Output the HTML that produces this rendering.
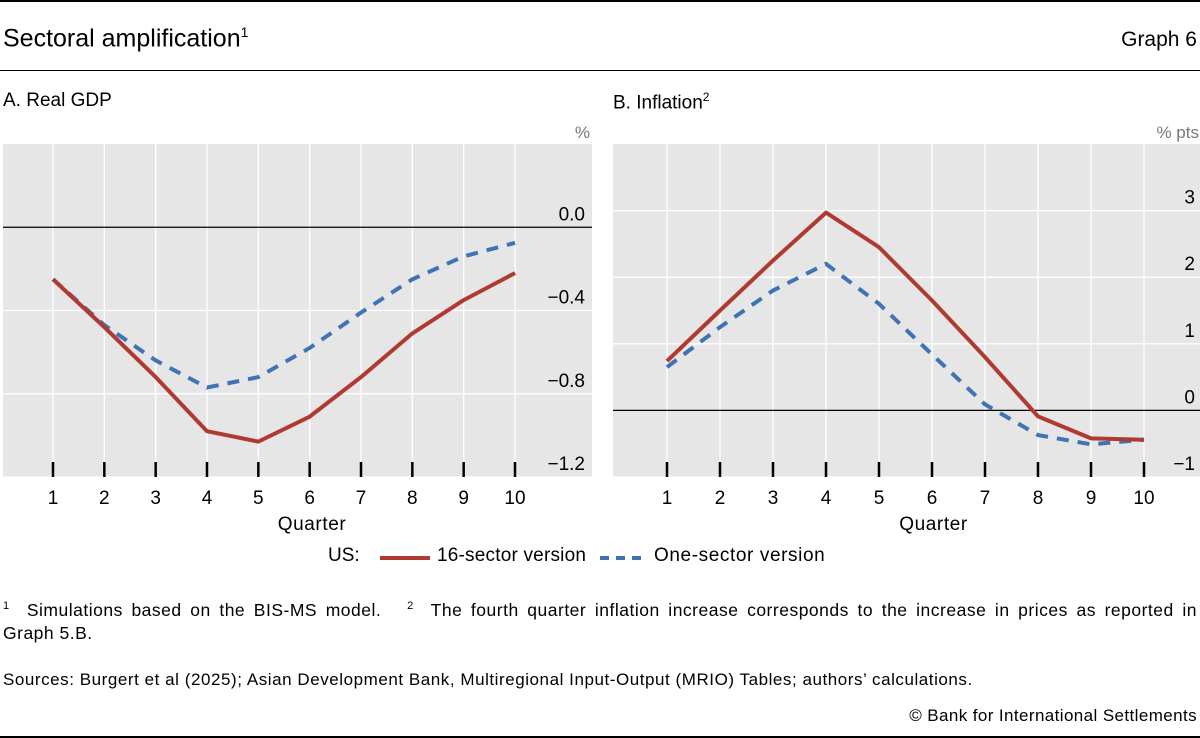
<!DOCTYPE html>
<html><head><meta charset="utf-8"><style>
body{margin:0;width:1200px;height:738px;background:#fff;font-family:"Liberation Sans",sans-serif;color:#000;overflow:hidden;position:relative}
.t{position:absolute;white-space:nowrap}
</style></head><body>
<div style="position:absolute;left:0;top:0;width:1200px;height:2px;background:#000"></div>
<div class="t" style="left:3px;top:24px;font-size:25px">Sectoral amplification<sup style="font-size:14px">1</sup></div>
<div class="t" style="right:3px;top:28px;font-size:21px">Graph 6</div>
<div style="position:absolute;left:0;top:70px;width:1200px;height:1px;background:#000"></div>
<div class="t" style="left:3px;top:90px;font-size:19px">A. Real GDP</div>
<div class="t" style="left:613px;top:90px;font-size:19px">B. Inflation<sup style="font-size:12px">2</sup></div>
<svg id="svg" width="1200" height="600" style="position:absolute;left:0;top:0" font-family="Liberation Sans, sans-serif"></svg>
<div class="t" style="left:328px;top:545px;font-size:19px">US:</div>
<div style="position:absolute;left:380px;top:556px;width:50px;height:4px;background:#b03a32"></div>
<div class="t" style="left:437px;top:545px;font-size:19px;letter-spacing:0.2px">16-sector version</div>
<svg width="52" height="6" style="position:absolute;left:598px;top:555px"><line x1="2" y1="3" x2="50" y2="3" stroke="#3f73b5" stroke-width="4" stroke-dasharray="9,7"/></svg>
<div class="t" style="left:654px;top:545px;font-size:19px;letter-spacing:0.6px">One-sector version</div>
<div class="t" style="left:3px;top:595px;font-size:17.5px;line-height:23px;white-space:normal;width:1194px;text-align:justify;letter-spacing:0.5px"><sup style="font-size:11px">1</sup>&nbsp; Simulations based on the BIS-MS model.&nbsp;&nbsp; <sup style="font-size:11px">2</sup>&nbsp; The fourth quarter inflation increase corresponds to the increase in prices as reported in Graph&nbsp;5.B.</div>
<div class="t" style="left:3px;top:670px;font-size:17px;letter-spacing:0.55px">Sources: Burgert et al (2025); Asian Development Bank, Multiregional Input-Output (MRIO) Tables; authors’ calculations.</div>
<div class="t" style="right:3px;top:706px;font-size:17px;letter-spacing:0.4px">© Bank for International Settlements</div>
<div style="position:absolute;left:0;top:736px;width:1200px;height:2px;background:#000"></div>
<script>
const quarters=[1,2,3,4,5,6,7,8,9,10];
const gdp16=[-0.25,-0.48,-0.72,-0.98,-1.03,-0.91,-0.72,-0.51,-0.35,-0.22];
const gdp1=[-0.25,-0.47,-0.64,-0.77,-0.72,-0.58,-0.41,-0.25,-0.14,-0.075];
const inf16=[0.74,1.5,2.25,2.97,2.45,1.65,0.8,-0.09,-0.42,-0.44];
const inf1=[0.65,1.25,1.8,2.2,1.6,0.84,0.09,-0.37,-0.51,-0.44];
const gdpTicks=[0,-0.4,-0.8,-1.2];
const gdpTickLabels=["0.0","−0.4","−0.8","−1.2"];
const infTicks=[3,2,1,0,-1];
const infTickLabels=["3","2","1","0","−1"];
const NS="http://www.w3.org/2000/svg";
const svg=document.getElementById('svg');
function mk(tag,attrs,parent){const e=document.createElementNS(NS,tag);for(const k in attrs)e.setAttribute(k,attrs[k]);(parent||svg).appendChild(e);return e;}
function panel(p){
  const g=mk('g',{});
  
  
  const top=144,bot=477;
  const y=v=>top+(p.ymax-v)/(p.ymax-p.ymin)*(bot-top);
  const x=q=>p.x1+(q-1)*(p.x10-p.x1)/9;
  const bg=mk('rect',{x:p.left,y:top,width:p.right-p.left,height:bot-top,fill:'#e6e6e6'},g);
  
  
  quarters.forEach(q=>{mk('line',{x1:x(q),x2:x(q),y1:top,y2:bot,stroke:'#fff','stroke-width':1.3},g);});
  p.ticks.forEach((t,i)=>{
    if(t!==0) mk('line',{x1:p.left,x2:p.right,y1:y(t),y2:y(t),stroke:'#fff','stroke-width':1.3},g);
    const tx=mk('text',{x:p.labelX,y:y(t)-7,'text-anchor':'end','font-size':19,fill:'#000'},g);
    tx.textContent=p.tickLabels[i];
    
    
  });
  const z=mk('line',{x1:p.left,x2:p.right,y1:y(0),y2:y(0),stroke:'#000','stroke-width':1.3},g);
  
  
  quarters.forEach(q=>{
    mk('line',{x1:x(q),x2:x(q),y1:bot-15,y2:bot,stroke:'#000','stroke-width':2.5},g);
    const tl=mk('text',{x:x(q),y:504,'text-anchor':'middle','font-size':19},g);
    tl.textContent=q;
    
    
  });
  const xt=mk('text',{x:(p.x1+p.x10)/2+28,y:530,'text-anchor':'middle','font-size':19,'letter-spacing':0.6},g);
  xt.textContent='Quarter';
  
  
  const u=mk('text',{x:p.unitX,y:138,'text-anchor':'end','font-size':17,fill:'#777'},g);
  u.textContent=p.unit;
  
  
  const pts=a=>a.map((v,i)=>x(quarters[i])+','+y(v)).join(' ');
  const l1=mk('polyline',{points:pts(p.s1),fill:'none',stroke:'#3f73b5','stroke-width':4,'stroke-dasharray':'12,9'},g);
  
  
  const l2=mk('polyline',{points:pts(p.s16),fill:'none',stroke:'#b03a32','stroke-width':4,'stroke-linejoin':'round'},g);
  
  
}
panel({name:'panel-a-real-gdp',left:3,right:592,x1:53,x10:515,ymin:-1.2,ymax:0.4,ticks:gdpTicks,tickLabels:gdpTickLabels,labelX:585,unitX:590,unit:'%',s16:gdp16,s1:gdp1});
panel({name:'panel-b-inflation',left:613,right:1200,x1:667,x10:1144,ymin:-1,ymax:4,ticks:infTicks,tickLabels:infTickLabels,labelX:1195,unitX:1199,unit:'% pts',s16:inf16,s1:inf1});
</script>
</body></html>
